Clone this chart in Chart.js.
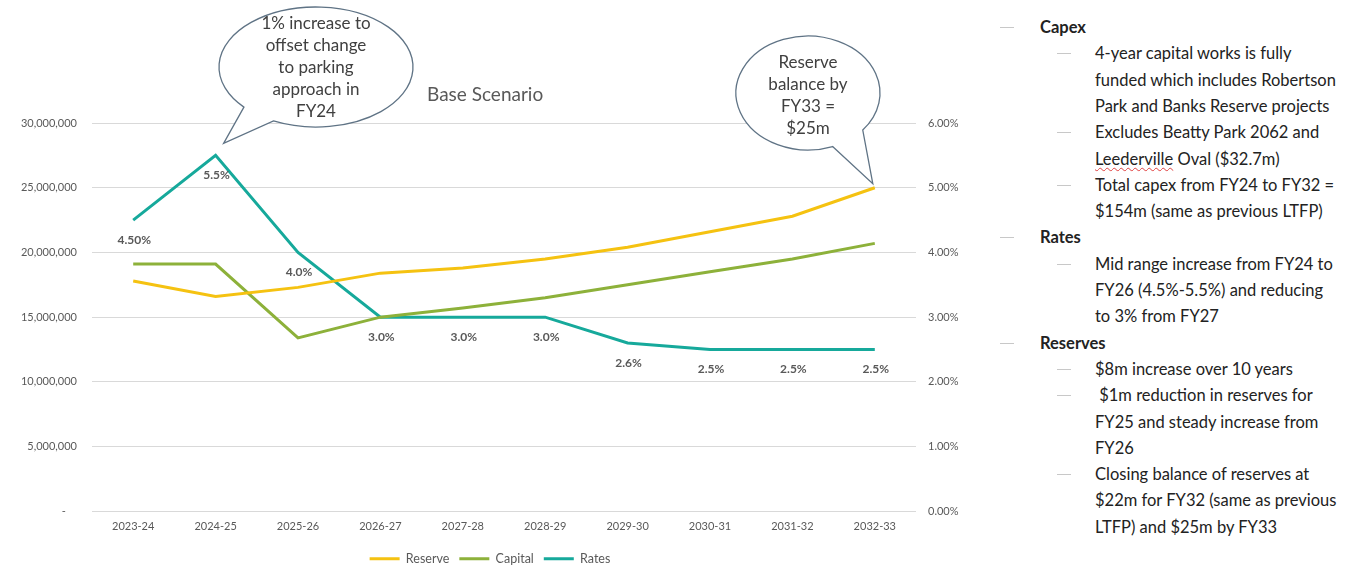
<!DOCTYPE html>
<html>
<head>
<meta charset="utf-8">
<script src="https://cdn.jsdelivr.net/npm/chart.js@4.4.1/dist/chart.umd.min.js"></script>
<style>
  html, body { margin: 0; padding: 0; background: #fff; }
  body { width: 1350px; height: 568px; position: relative; overflow: hidden; font-family: Lato, "Open Sans", sans-serif; }
  #chart-wrap { position: absolute; left: 0; top: 0; width: 980px; height: 575px; }
  .bubble-text { position: absolute; width: 150px; text-align: center; color: #404040; font-size: 17px; line-height: 22px; }
  #title { position: absolute; left: 427px; top: 82px; font-size: 19px; color: #595959; }
  .ln { position: absolute; font-size: 16.5px; line-height: 20px; color: #222; white-space: pre; }
  .ln.b { font-weight: bold; }
  .dash { position: absolute; width: 14px; height: 1px; background: #c8c8c8; }
  .squiggle { text-decoration: underline wavy #e04040; text-decoration-thickness: 1px; text-underline-offset: 2px; }
</style>
</head>
<body>
<div id="chart-wrap"><canvas id="plan-chart"></canvas></div>
<div id="title">Base Scenario</div>
<div class="bubble-text" style="left:241px; top:12px;">1% increase to<br>offset change<br>to parking<br>approach in<br>FY24</div>
<div class="bubble-text" style="left:733px; top:51px;">Reserve<br>balance by<br>FY33 =<br>$25m</div>
<div id="notes"></div>

<script>
const categories = ["2023-24", "2024-25", "2025-26", "2026-27", "2027-28", "2028-29", "2029-30", "2030-31", "2031-32", "2032-33"];
const reserveValues = [17800000, 16600000, 17300000, 18400000, 18800000, 19500000, 20400000, 21600000, 22800000, 25000000];
const capitalValues = [19100000, 19100000, 13400000, 15000000, 15700000, 16500000, 17500000, 18500000, 19500000, 20700000];
const ratesValues = [4.5, 5.5, 4.0, 3.0, 3.0, 3.0, 2.6, 2.5, 2.5, 2.5];
const ratesLabels = ["4.50%", "5.5%", "4.0%", "3.0%", "3.0%", "3.0%", "2.6%", "2.5%", "2.5%", "2.5%"];
const amountAxis = { min: 0, max: 30000000, step: 5000000 };
const percentAxis = { min: 0, max: 6, step: 1 };

const noteLines = [
    { text: "Capex", level: 1, dash: true },
    { text: "4-year capital works is fully", level: 2, dash: true },
    { text: "funded which includes Robertson", level: 2 },
    { text: "Park and Banks Reserve projects", level: 2 },
    { text: "Excludes Beatty Park 2062 and", level: 2, dash: true },
    { html: '<span class="squiggle">Leederville</span> Oval ($32.7m)', level: 2 },
    { text: "Total capex from FY24 to FY32 =", level: 2, dash: true },
    { text: "$154m (same as previous LTFP)", level: 2 },
    { text: "Rates", level: 1, dash: true },
    { text: "Mid range increase from FY24 to", level: 2, dash: true },
    { text: "FY26 (4.5%-5.5%) and reducing", level: 2 },
    { text: "to 3% from FY27", level: 2 },
    { text: "Reserves", level: 1, dash: true },
    { text: "$8m increase over 10 years", level: 2, dash: true },
    { text: " $1m reduction in reserves for", level: 2, dash: true },
    { text: "FY25 and steady increase from", level: 2 },
    { text: "FY26", level: 2 },
    { text: "Closing balance of reserves at", level: 2, dash: true },
    { text: "$22m for FY32 (same as previous", level: 2 },
    { text: "LTFP) and $25m by FY33", level: 2 },
];

function buildNotes() {
    const box = document.getElementById("notes");
    noteLines.forEach((line, i) => {
        const y = 27 + i * 26.3;
        const el = document.createElement("div");
        el.className = "ln" + (line.level === 1 ? " b" : "");
        el.style.left = (line.level === 1 ? 1040 : 1095) + "px";
        el.style.top = (y - 10) + "px";
        if (line.html) el.innerHTML = line.html; else el.textContent = line.text;
        box.appendChild(el);
        if (line.dash) {
            const d = document.createElement("div");
            d.className = "dash";
            d.style.left = (line.level === 1 ? 1000 : 1057) + "px";
            d.style.top = Math.round(y) + "px";
            box.appendChild(d);
        }
    });
}

function drawBubble(ctx, cx, cy, rx, ry, startDeg, endDeg, tipX, tipY) {
    const a0 = startDeg * Math.PI / 180;
    const a1 = (endDeg + 360) * Math.PI / 180;
    ctx.save();
    ctx.beginPath();
    ctx.ellipse(cx, cy, rx, ry, 0, a0, a1);
    ctx.lineTo(tipX, tipY);
    ctx.closePath();
    ctx.fillStyle = "#ffffff";
    ctx.fill();
    ctx.strokeStyle = "#5f7385";
    ctx.lineWidth = 1.3;
    ctx.stroke();
    ctx.restore();
}

const rateLabelPlugin = {
    id: "rateLabels",
    afterDatasetsDraw(chart) {
        const ctx = chart.ctx;
        const meta = chart.getDatasetMeta(2);
        ctx.save();
        ctx.font = "bold 12px Lato, sans-serif";
        ctx.fillStyle = "#595959";
        ctx.textAlign = "center";
        ctx.textBaseline = "middle";
        meta.data.forEach((pt, i) => {
            ctx.fillText(ratesLabels[i], pt.x + 1, pt.y + 20);
        });
        ctx.restore();
    },
};

const calloutPlugin = {
    id: "callouts",
    afterDraw(chart) {
        const ctx = chart.ctx;
        const peak = chart.getDatasetMeta(2).data[1];
        const last = chart.getDatasetMeta(0).data[9];
        drawBubble(ctx, 316, 67, 97, 60, 138, 116, peak.x + 8, peak.y - 12);
        drawBubble(ctx, 808, 93, 72, 57, 70, 40.5, last.x - 2, last.y - 4);
    },
};

function initChart() {
    const ctx = document.getElementById("plan-chart");
    new Chart(ctx, {
        type: "line",
        data: {
            labels: categories,
            datasets: [
                { label: "Reserve", data: reserveValues, borderColor: "#f5c211", backgroundColor: "#f5c211", borderWidth: 3, yAxisID: "y" },
                { label: "Capital", data: capitalValues, borderColor: "#8db13a", backgroundColor: "#8db13a", borderWidth: 3, yAxisID: "y" },
                { label: "Rates", data: ratesValues, borderColor: "#16a99b", backgroundColor: "#16a99b", borderWidth: 3, yAxisID: "y1" },
            ],
        },
        options: {
            responsive: true,
            maintainAspectRatio: false,
            animation: false,
            layout: { padding: { top: 123, left: 0, right: 0, bottom: 0 } },
            elements: {
                line: { tension: 0 },
                point: { radius: 0, hoverRadius: 0 },
            },
            plugins: {
                legend: {
                    position: "bottom",
                    labels: {
                        usePointStyle: true,
                        pointStyle: "line",
                        pointStyleWidth: 30,
                        color: "#595959",
                        font: { family: "Lato", size: 12.5 },
                        padding: 10,
                    },
                },
                tooltip: { enabled: false },
            },
            scales: {
                x: {
                    offset: true,
                    grid: { display: false },
                    border: { display: false },
                    ticks: { color: "#595959", font: { family: "Lato", size: 11 }, padding: 1, maxRotation: 0 },
                    afterFit: (s) => { s.height += 8; },
                },
                y: {
                    position: "left",
                    min: amountAxis.min,
                    max: amountAxis.max,
                    grid: { color: "#d9d9d9", drawTicks: false },
                    border: { display: false },
                    ticks: {
                        stepSize: amountAxis.step,
                        padding: 15,
                        color: "#595959",
                        font: { family: "Lato", size: 11 },
                        callback: (v) => (v === 0 ? "-    " : v.toLocaleString("en-US")),
                    },
                    afterFit: (s) => { s.width = 92; },
                },
                y1: {
                    position: "right",
                    min: percentAxis.min,
                    max: percentAxis.max,
                    grid: { drawOnChartArea: false, drawTicks: false },
                    border: { display: false },
                    ticks: {
                        stepSize: percentAxis.step,
                        padding: 12,
                        color: "#595959",
                        font: { family: "Lato", size: 11 },
                        callback: (v) => v.toFixed(2) + "%",
                    },
                    afterFit: (s) => { s.width = 64; },
                },
            },
        },
        plugins: [rateLabelPlugin, calloutPlugin],
    });
}

document.addEventListener("DOMContentLoaded", () => {
    buildNotes();
    initChart();
});
</script>
</body>
</html>
